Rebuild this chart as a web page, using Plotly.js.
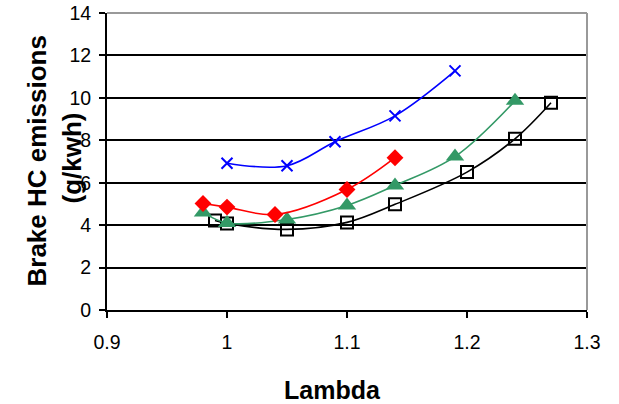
<!DOCTYPE html>
<html>
<head>
<meta charset="utf-8">
<script src="https://cdn.plot.ly/plotly-3.0.1.min.js"></script>
<style>html,body{margin:0;padding:0;background:#fff;}#chart{width:619px;height:404px;}</style>
</head>
<body>
<div id="chart"></div>
<script>
// Series data (Lambda vs Brake HC emissions g/kWh)
var blackX = [0.99, 1.0, 1.05, 1.1, 1.14, 1.2, 1.24, 1.27];
var blackY = [4.22, 4.08, 3.8, 4.13, 4.98, 6.5, 8.07, 9.77];
var greenX = [0.98, 1.0, 1.05, 1.1, 1.14, 1.19, 1.24];
var greenY = [4.6, 4.1, 4.27, 4.93, 5.87, 7.23, 9.86];
var redX = [0.98, 1.0, 1.04, 1.1, 1.14];
var redY = [5.02, 4.85, 4.5, 5.68, 7.18];
var blueX = [1.0, 1.05, 1.09, 1.14, 1.19];
var blueY = [6.92, 6.8, 7.93, 9.15, 11.27];

var xTicks = [0.9, 1, 1.1, 1.2, 1.3];
var xTickText = ['0.9', '1', '1.1', '1.2', '1.3'];
var yTicks = [0, 2, 4, 6, 8, 10, 12, 14];

var FONT = 'Liberation Sans, Arial, sans-serif';

function series(x, y, color, symbol, size, mline) {
  return {
    x: x, y: y, type: 'scatter', mode: 'lines+markers',
    line: {color: color, width: 1.6, shape: 'spline', smoothing: 1},
    marker: {color: color, symbol: symbol, size: size, line: mline || {width: 0}},
    showlegend: false, cliponaxis: false
  };
}

var data = [
  series(blackX, blackY, '#000000', 'square-open', 12, {color: '#000000', width: 2}),
  series(greenX, greenY, '#339966', 'triangle-up', 16),
  series(redX, redY, '#ff0000', 'diamond', 13),
  series(blueX, blueY, '#0000ff', 'x-thin-open', 11, {color: '#0000ff', width: 2})
];

var layout = {
  width: 619, height: 404,
  margin: {l: 107, r: 32, t: 13, b: 94},
  paper_bgcolor: '#ffffff', plot_bgcolor: '#ffffff',
  font: {family: FONT, size: 19, color: '#000000'},
  xaxis: {
    range: [0.9, 1.3], tickvals: xTicks, ticktext: xTickText,
    showgrid: false, zeroline: false,
    showline: true, linecolor: '#000000', linewidth: 2,
    ticks: 'outside', ticklen: 6, tickwidth: 2, tickcolor: '#000000',
    ticklabelstandoff: 8,
    tickfont: {family: FONT, size: 19.5}
  },
  yaxis: {
    range: [0, 14], tickvals: yTicks,
    showgrid: true, gridcolor: '#000000', gridwidth: 2,
    zeroline: false,
    showline: true, linecolor: '#000000', linewidth: 2,
    ticks: 'outside', ticklen: 6, tickwidth: 2, tickcolor: '#000000',
    ticklabelstandoff: 4,
    tickfont: {family: FONT, size: 19.5}
  },
  shapes: [
    {type: 'line', xref: 'paper', yref: 'paper', x0: 0, x1: 1, y0: 1, y1: 1,
     line: {color: '#999999', width: 2}, layer: 'above'},
    {type: 'line', xref: 'paper', yref: 'paper', x0: 1, x1: 1, y0: 0, y1: 1,
     line: {color: '#999999', width: 2}, layer: 'above'}
  ],
  annotations: [
    {text: '<b>Brake HC emissions</b>', textangle: -90, xref: 'paper', yref: 'paper',
     x: 0, y: 0.5, xanchor: 'center', yanchor: 'middle', xshift: -71, yshift: 0,
     showarrow: false, font: {family: FONT, size: 26}},
    {text: '<b>(g/kwh)</b>', textangle: -90, xref: 'paper', yref: 'paper',
     x: 0, y: 0.5, xanchor: 'center', yanchor: 'middle', xshift: -36, yshift: 3,
     showarrow: false, font: {family: FONT, size: 26}},
    {text: '<b>Lambda</b>', xref: 'paper', yref: 'paper',
     x: 0.5, y: 0, xanchor: 'center', yanchor: 'middle', xshift: -15, yshift: -80,
     showarrow: false, font: {family: FONT, size: 25}}
  ]
};

Plotly.newPlot('chart', data, layout, {displayModeBar: false, staticPlot: true});
</script>
</body>
</html>
